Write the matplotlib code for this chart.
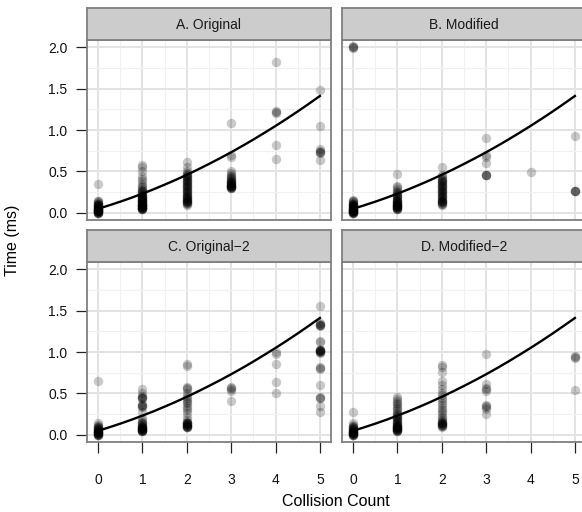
import matplotlib
matplotlib.use("Agg")
import matplotlib.pyplot as plt
from matplotlib.ticker import MultipleLocator

plt.rcParams['font.family'] = ['Liberation Sans', 'DejaVu Sans']

# facet titles
panels = ['A. Original', 'B. Modified', 'C. Original\u22122', 'D. Modified\u22122']

# time (ms) per collision count 0..5, one list per panel
a_times = [
    [0.00, 0.00, 0.00, 0.00, 0.01, 0.01, 0.01, 0.01, 0.02, 0.02, 0.02, 0.02, 0.03,
     0.03, 0.03, 0.03, 0.04, 0.04, 0.04, 0.05, 0.05, 0.05, 0.06, 0.06, 0.06, 0.07,
     0.07, 0.08, 0.08, 0.09, 0.09, 0.10, 0.10, 0.11, 0.11, 0.12, 0.13, 0.14, 0.15,
     0.35],
    [0.05, 0.05, 0.05, 0.05, 0.06, 0.06, 0.06, 0.06, 0.07, 0.07, 0.07, 0.07, 0.08,
     0.08, 0.08, 0.09, 0.09, 0.09, 0.10, 0.10, 0.10, 0.11, 0.11, 0.12, 0.12, 0.13,
     0.13, 0.14, 0.14, 0.15, 0.15, 0.16, 0.16, 0.17, 0.17, 0.18, 0.18, 0.19, 0.19,
     0.20, 0.20, 0.21, 0.22, 0.23, 0.24, 0.25, 0.26, 0.27, 0.28, 0.29, 0.31, 0.33,
     0.35, 0.38, 0.41, 0.45, 0.50, 0.55, 0.58],
    [0.10, 0.11, 0.12, 0.12, 0.13, 0.13, 0.14, 0.15, 0.15, 0.16, 0.17, 0.17, 0.18,
     0.19, 0.19, 0.20, 0.21, 0.22, 0.23, 0.24, 0.25, 0.26, 0.27, 0.28, 0.29, 0.30,
     0.31, 0.32, 0.33, 0.34, 0.35, 0.36, 0.37, 0.38, 0.39, 0.40, 0.41, 0.42, 0.43,
     0.44, 0.45, 0.46, 0.47, 0.48, 0.50, 0.55, 0.61],
    [0.30, 0.30, 0.30, 0.31, 0.31, 0.31, 0.32, 0.32, 0.33, 0.33, 0.34, 0.34, 0.35,
     0.35, 0.36, 0.36, 0.37, 0.37, 0.38, 0.39, 0.40, 0.41, 0.42, 0.43, 0.44, 0.46,
     0.48, 0.50, 0.68, 0.70, 1.08],
    [0.65, 0.82, 1.21, 1.22, 1.23, 1.82],
    [0.64, 0.72, 0.73, 0.74, 0.75, 0.77, 1.05, 1.48],
]
b_times = [
    [0.00, 0.00, 0.00, 0.00, 0.01, 0.01, 0.01, 0.01, 0.02, 0.02, 0.02, 0.02, 0.03,
     0.03, 0.03, 0.03, 0.04, 0.04, 0.04, 0.05, 0.05, 0.05, 0.06, 0.06, 0.06, 0.07,
     0.07, 0.08, 0.08, 0.09, 0.09, 0.10, 0.10, 0.11, 0.11, 0.12, 0.13, 0.14, 0.15,
     0.16, 1.99, 2.00, 2.00, 2.01],
    [0.05, 0.05, 0.05, 0.06, 0.06, 0.06, 0.07, 0.07, 0.07, 0.08, 0.08, 0.08, 0.09,
     0.09, 0.10, 0.10, 0.11, 0.11, 0.12, 0.12, 0.13, 0.13, 0.14, 0.14, 0.15, 0.16,
     0.17, 0.18, 0.19, 0.20, 0.21, 0.22, 0.23, 0.24, 0.25, 0.27, 0.29, 0.31, 0.33,
     0.47],
    [0.10, 0.11, 0.11, 0.12, 0.13, 0.13, 0.14, 0.15, 0.15, 0.16, 0.17, 0.18, 0.19,
     0.20, 0.21, 0.22, 0.23, 0.24, 0.25, 0.26, 0.27, 0.28, 0.29, 0.30, 0.31, 0.32,
     0.33, 0.34, 0.35, 0.36, 0.37, 0.38, 0.39, 0.40, 0.41, 0.42, 0.44, 0.46, 0.55],
    [0.46, 0.46, 0.46, 0.46, 0.60, 0.67, 0.70, 0.90],
    [0.49],
    [0.27, 0.27, 0.27, 0.27, 0.93],
]
c_times = [
    [0.00, 0.00, 0.00, 0.00, 0.01, 0.01, 0.01, 0.02, 0.02, 0.02, 0.03, 0.03, 0.03,
     0.04, 0.04, 0.04, 0.05, 0.05, 0.06, 0.06, 0.07, 0.07, 0.08, 0.08, 0.09, 0.10,
     0.11, 0.12, 0.14, 0.65],
    [0.05, 0.05, 0.05, 0.05, 0.06, 0.06, 0.06, 0.06, 0.07, 0.07, 0.07, 0.08, 0.08,
     0.08, 0.09, 0.09, 0.10, 0.10, 0.11, 0.12, 0.13, 0.14, 0.15, 0.16, 0.18, 0.20,
     0.28, 0.34, 0.35, 0.35, 0.36, 0.37, 0.44, 0.45, 0.45, 0.46, 0.47, 0.50, 0.55],
    [0.09, 0.10, 0.10, 0.10, 0.11, 0.11, 0.11, 0.12, 0.12, 0.13, 0.13, 0.14, 0.14,
     0.15, 0.15, 0.16, 0.18, 0.22, 0.26, 0.30, 0.32, 0.35, 0.38, 0.40, 0.42, 0.45,
     0.47, 0.50, 0.55, 0.57, 0.58, 0.83, 0.85],
    [0.41, 0.53, 0.55, 0.56, 0.58],
    [0.51, 0.64, 0.86, 0.98, 1.00],
    [0.28, 0.35, 0.44, 0.45, 0.46, 0.60, 0.80, 0.81, 0.82, 0.99, 1.00, 1.00, 1.01,
     1.01, 1.01, 1.02, 1.02, 1.03, 1.03, 1.12, 1.13, 1.31, 1.32, 1.33, 1.33, 1.34,
     1.35, 1.55],
]
d_times = [
    [0.00, 0.00, 0.00, 0.00, 0.01, 0.01, 0.01, 0.02, 0.02, 0.02, 0.03, 0.03, 0.03,
     0.04, 0.04, 0.04, 0.05, 0.05, 0.06, 0.06, 0.07, 0.07, 0.08, 0.08, 0.09, 0.10,
     0.11, 0.12, 0.14, 0.28],
    [0.05, 0.05, 0.05, 0.06, 0.06, 0.06, 0.07, 0.07, 0.07, 0.08, 0.08, 0.08, 0.09,
     0.09, 0.10, 0.10, 0.11, 0.11, 0.12, 0.12, 0.13, 0.14, 0.15, 0.16, 0.17, 0.18,
     0.19, 0.20, 0.21, 0.22, 0.23, 0.24, 0.25, 0.27, 0.29, 0.31, 0.33, 0.35, 0.37,
     0.39, 0.41, 0.43, 0.46],
    [0.10, 0.11, 0.11, 0.12, 0.12, 0.13, 0.13, 0.14, 0.14, 0.15, 0.16, 0.17, 0.18,
     0.20, 0.22, 0.25, 0.28, 0.30, 0.33, 0.36, 0.39, 0.42, 0.45, 0.48, 0.50, 0.55,
     0.60, 0.65, 0.76, 0.82, 0.84],
    [0.25, 0.31, 0.34, 0.35, 0.36, 0.53, 0.55, 0.56, 0.61, 0.97],
    [],
    [0.54, 0.93, 0.94, 0.95],
]
all_times = [a_times, b_times, c_times, d_times]

# fitted curve
curve_x = [0.00, 0.25, 0.50, 0.75, 1.00, 1.25, 1.50, 1.75, 2.00, 2.25, 2.50,
           2.75, 3.00, 3.25, 3.50, 3.75, 4.00, 4.25, 4.50, 4.75, 5.00]
curve_y = [0.050, 0.092, 0.136, 0.183, 0.233, 0.285, 0.341, 0.399, 0.460, 0.524,
           0.591, 0.660, 0.732, 0.807, 0.885, 0.966, 1.049, 1.135, 1.224, 1.316,
           1.410]

W, H = 582, 512
fig = plt.figure(figsize=(W / 100, H / 100), dpi=100)

lefts = [87, 342]
tops = [40, 262]
pw, ph, sh = 244, 180, 32
border = '#7f7f7f'

for i, times in enumerate(all_times):
    row, col = divmod(i, 2)
    x0, top = lefts[col], tops[row]
    ax = fig.add_axes([x0 / W, 1 - (top + ph) / H, pw / W, ph / H])
    ax.set_xlim(-0.25, 5.25)
    ax.set_ylim(-0.085, 2.085)
    ax.xaxis.set_major_locator(MultipleLocator(1))
    ax.xaxis.set_minor_locator(MultipleLocator(0.5))
    ax.yaxis.set_major_locator(MultipleLocator(0.5))
    ax.yaxis.set_minor_locator(MultipleLocator(0.25))
    ax.grid(which='major', color='#e3e3e3', lw=1.4, zorder=0)
    ax.grid(which='minor', color='#f0f0f0', lw=0.8, zorder=0)
    ax.set_axisbelow(True)
    for s in ax.spines.values():
        s.set_color(border)
        s.set_linewidth(1.3)

    for count, vals in enumerate(times):
        ax.scatter([count] * len(vals), vals, s=46, color='black', alpha=0.21,
                   linewidths=0, zorder=2)
    ax.plot(curve_x, curve_y, color='black', lw=1.7, zorder=3)

    ax.tick_params(which='minor', length=0)
    ax.tick_params(which='major', length=8, width=0.9, color='#222222',
                   labelsize=10, labelcolor='#111111')
    ax.tick_params(axis='y', pad=6)
    ax.tick_params(axis='x', pad=14)
    if col == 1:
        ax.tick_params(axis='y', left=False, labelleft=False)
    if row == 0:
        ax.tick_params(axis='x', bottom=False, labelbottom=False)

    sax = fig.add_axes([x0 / W, 1 - top / H, pw / W, sh / H])
    sax.set_facecolor('#cccccc')
    sax.set_xticks([])
    sax.set_yticks([])
    for s in sax.spines.values():
        s.set_color(border)
        s.set_linewidth(1.3)
    sax.text(0.5, 0.48, panels[i], ha='center', va='center', fontsize=10,
             color='#1a1a1a', transform=sax.transAxes)

fig.text(12 / W, 1 - 240 / H, 'Time (ms)', rotation=90, ha='center',
         va='center', fontsize=11.5)
fig.text(336 / W, 1 - 502 / H, 'Collision Count', ha='center', va='center',
         fontsize=11.5)

fig.savefig('out.png', dpi=100)
